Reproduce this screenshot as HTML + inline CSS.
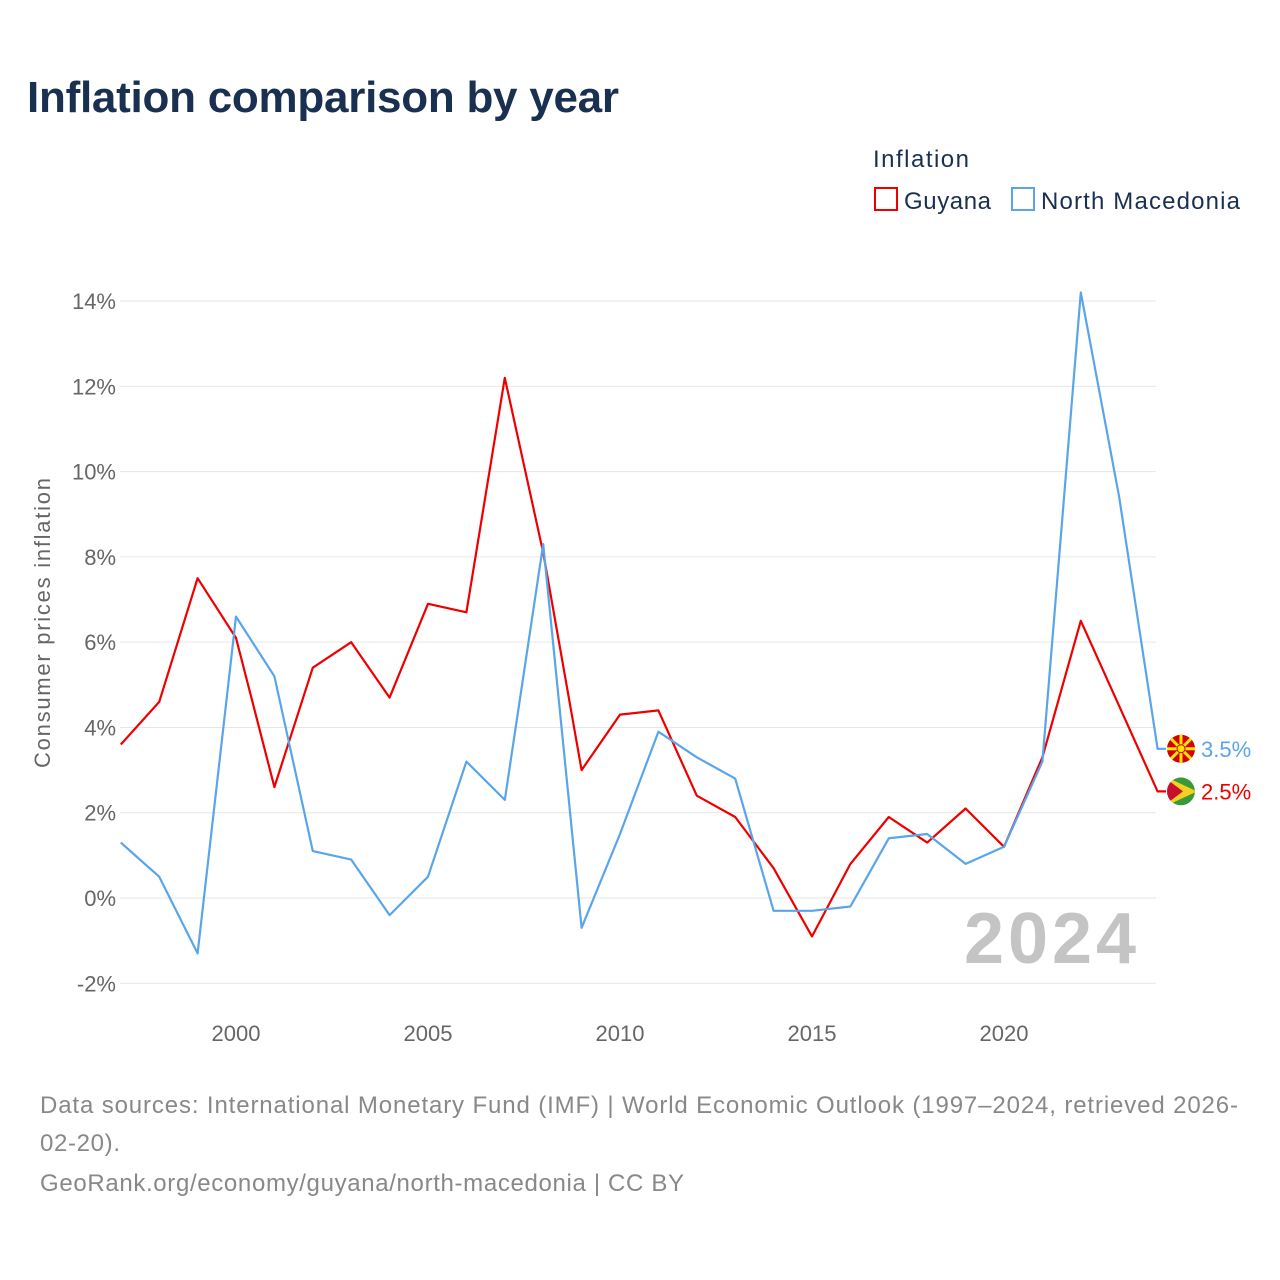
<!DOCTYPE html>
<html><head><meta charset="utf-8">
<style>
body{margin:0;background:#fff;font-family:"Liberation Sans",sans-serif;}
#wrap{position:relative;width:1280px;height:1280px;overflow:hidden;}
</style></head>
<body><div id="wrap">
<svg id="chart" width="1280" height="1280" xmlns="http://www.w3.org/2000/svg">
<defs><clipPath id="gclip"><circle cx="1181" cy="791" r="14"/></clipPath></defs>
<text x="27" y="112" font-size="44" font-weight="bold" fill="#1a3050" textLength="592">Inflation comparison by year</text>
<text x="873" y="167" font-size="24" fill="#1a3050" textLength="96">Inflation</text>
<g><rect x="875" y="188" width="22" height="22" fill="none" stroke="#e00" stroke-width="2"/><text x="904" y="209" font-size="24" fill="#1a3050" textLength="87">Guyana</text></g>
<g><rect x="1012" y="188" width="22" height="22" fill="none" stroke="#5aa5ea" stroke-width="2"/><text x="1041" y="209" font-size="24" fill="#1a3050" textLength="199">North Macedonia</text></g>
<g id="grid"></g><g id="series"></g>
<text x="1136" y="963" font-size="72" font-weight="bold" fill="#c4c4c4" text-anchor="end" textLength="172">2024</text>
<text transform="translate(50,623) rotate(-90)" font-size="22" fill="#666" text-anchor="middle" textLength="290">Consumer prices inflation</text>
<text x="40" y="1113" font-size="24" fill="#888" textLength="1198">Data sources: International Monetary Fund (IMF) | World Economic Outlook (1997–2024, retrieved 2026-</text>
<text x="40" y="1151" font-size="24" fill="#888" textLength="80">02-20).</text>
<text x="40" y="1191" font-size="24" fill="#888" textLength="644">GeoRank.org/economy/guyana/north-macedonia | CC BY</text>
</svg>
<script>
const years=[1997,1998,1999,2000,2001,2002,2003,2004,2005,2006,2007,2008,2009,2010,2011,2012,2013,2014,2015,2016,2017,2018,2019,2020,2021,2022,2023,2024];
const guyana=[3.6,4.6,7.5,6.1,2.6,5.4,6.0,4.7,6.9,6.7,12.2,8.1,3.0,4.3,4.4,2.4,1.9,0.7,-0.9,0.8,1.9,1.3,2.1,1.2,3.3,6.5,4.5,2.5];
const macedonia=[1.3,0.5,-1.3,6.6,5.2,1.1,0.9,-0.4,0.5,3.2,2.3,8.3,-0.7,1.5,3.9,3.3,2.8,-0.3,-0.3,-0.2,1.4,1.5,0.8,1.2,3.2,14.2,9.4,3.5];
const yTicks=[-2,0,2,4,6,8,10,12,14];
const xTicks=[2000,2005,2010,2015,2020];
const NS="http://www.w3.org/2000/svg";
const xs=y=>236+(y-2000)*38.4;
const ys=v=>898-v*42.64;
const grid=document.getElementById('grid'),ser=document.getElementById('series');
function mk(t,a,p){const e=document.createElementNS(NS,t);for(const k in a)e.setAttribute(k,a[k]);p.appendChild(e);return e;}
yTicks.forEach(v=>{
 const l=mk('line',{x1:120,x2:1156,y1:ys(v),y2:ys(v),stroke:'#e6e6e6','stroke-width':1},grid);
 
 
 const t=mk('text',{x:116,y:ys(v)+8,'font-size':22,fill:'#666','text-anchor':'end'},grid);
 t.textContent=v+'%';
 
 
});
xTicks.forEach(y=>{
 const t=mk('text',{x:xs(y),y:1041,'font-size':22,fill:'#666','text-anchor':'middle'},grid);
 t.textContent=y;
 
 
});
function line(vals,color,name){
 let d=vals.map((v,i)=>(i?'L':'M')+xs(years[i]).toFixed(1)+','+ys(v).toFixed(1)).join(' ');
 const last=vals[vals.length-1];
 d+=' L1166,'+ys(last).toFixed(1);
 const p=mk('path',{d:d,fill:'none',stroke:color,'stroke-width':2.2,'stroke-linejoin':'round'},ser);
 
 
 const t=mk('text',{x:1201,y:ys(last)+8,'font-size':22,fill:color},ser);
 t.textContent=last+'%';
 
 
 return ys(last);
}
const gy=line(guyana,'#e00','guyana');
const my=line(macedonia,'#5aa5ea','north-macedonia');
document.querySelector('#gclip circle').setAttribute('cy',gy);
const f1=mk('g',{'clip-path':'url(#gclip)'},ser);


mk('circle',{cx:1181,cy:gy,r:14,fill:'#3a9a3a'},f1);
mk('path',{d:`M1167,${gy-14} L1197,${gy} L1167,${gy+14}Z`,fill:'#f5d020'},f1);
mk('path',{d:`M1167,${gy-12} L1183,${gy} L1167,${gy+12}Z`,fill:'#c8102e'},f1);
const f2=mk('g',{},ser);


mk('circle',{cx:1181,cy:my,r:14,fill:'#d20000'},f2);
for(let a=0;a<8;a++){const r=a*Math.PI/4;mk('line',{x1:1181,y1:my,x2:1181+14*Math.cos(r),y2:my+14*Math.sin(r),stroke:'#ffe600','stroke-width':3},f2);}
mk('circle',{cx:1181,cy:my,r:4,fill:'#ffe600',stroke:'#d20000','stroke-width':1},f2);
</script>
</div></body></html>
